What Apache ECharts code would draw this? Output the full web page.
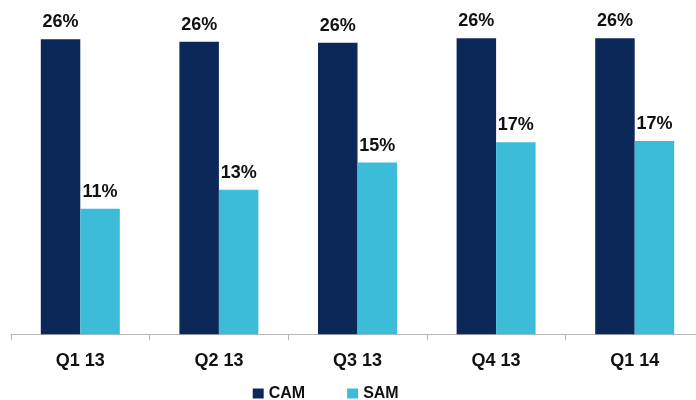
<!DOCTYPE html>
<html>
<head>
<meta charset="utf-8">
<script src="https://cdn.jsdelivr.net/npm/echarts@6/dist/echarts.min.js"></script>
<style>
  html, body { margin: 0; padding: 0; background: #fff; }
  #chart { width: 696px; height: 400px; }
</style>
</head>
<body>
<div id="chart"></div>
<script>
// Quarterly share, in percent
const quarters = ['Q1 13', 'Q2 13', 'Q3 13', 'Q4 13', 'Q1 14'];
const camShare = [26.1, 25.9, 25.8, 26.2, 26.2];
const samShare = [11.1, 12.8, 15.2, 17.0, 17.1];
const seriesNames = ['CAM', 'SAM'];

const boldFont = '"Liberation Sans", Arial, sans-serif';

const valueLabel = {
  show: true,
  position: 'top',
  distance: 8,
  color: '#111',
  fontFamily: boldFont,
  fontWeight: 'bold',
  fontSize: 18,
  formatter: p => Math.round(p.value) + '%'
};

const chart = echarts.init(document.getElementById('chart'), null, { renderer: 'canvas' });
chart.setOption({
  animation: false,
  backgroundColor: '#ffffff',
  // the plot runs slightly past the right edge of the page
  grid: {
    left: 11, width: 693, top: 17.9, bottom: 65.7,
    containLabel: false,
    outerBoundsMode: 'none'
  },
  legend: {
    data: seriesNames,
    left: 252.7,
    top: 385.5,
    padding: 0,
    itemWidth: 11,
    itemHeight: 10,
    itemGap: 42,
    icon: 'rect',
    textStyle: {
      fontFamily: boldFont,
      fontWeight: 'bold',
      fontSize: 16,
      color: '#111'
    }
  },
  xAxis: {
    type: 'category',
    data: quarters,
    axisLine: { show: true, lineStyle: { color: '#b8b8b8', width: 1 } },
    axisTick: { show: true, alignWithLabel: false, length: 6, lineStyle: { color: '#b8b8b8' } },
    axisLabel: {
      margin: 18,
      color: '#111',
      fontFamily: boldFont,
      fontWeight: 'bold',
      fontSize: 18
    }
  },
  yAxis: {
    type: 'value',
    min: 0,
    max: 28,
    show: false,
    splitLine: { show: false }
  },
  series: [
    {
      name: seriesNames[0],
      type: 'bar',
      data: camShare,
      barWidth: 39.5,
      barGap: '0%',
      itemStyle: { color: '#0c2859' },
      label: valueLabel
    },
    {
      name: seriesNames[1],
      type: 'bar',
      data: samShare,
      barWidth: 39.5,
      barGap: '0%',
      itemStyle: { color: '#3cbcd9' },
      label: valueLabel
    }
  ]
});
</script>
</body>
</html>
